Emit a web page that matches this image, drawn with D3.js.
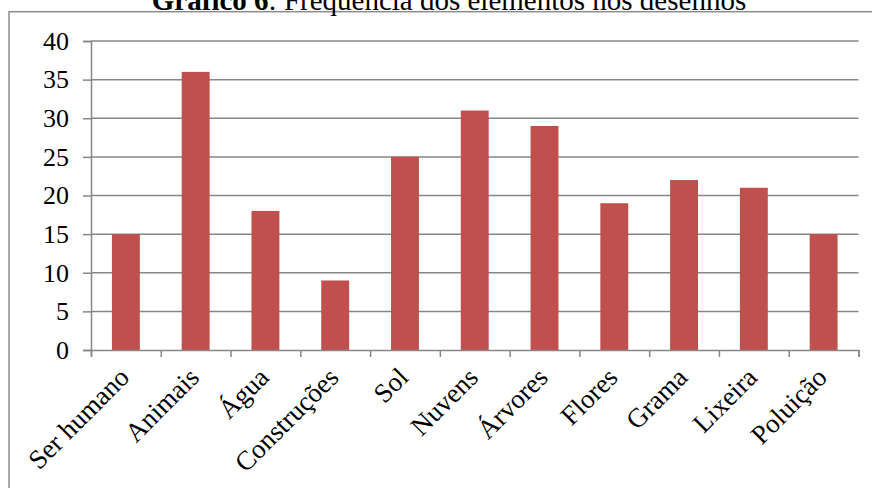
<!DOCTYPE html>
<html>
<head>
<meta charset="utf-8">
<script src="https://cdn.jsdelivr.net/npm/d3@7"></script>
<style>
  html, body { margin: 0; padding: 0; background: #fff; }
  svg { display: block; }
</style>
</head>
<body>
<svg id="chart" width="872" height="488"></svg>
<script>
const categories = ["Ser humano", "Animais", "Água", "Construções", "Sol", "Nuvens", "Árvores", "Flores", "Grama", "Lixeira", "Poluição"];
const values = [15, 36, 18, 9, 25, 31, 29, 19, 22, 21, 15];
const yTicks = [0, 5, 10, 15, 20, 25, 30, 35, 40];
const titleBold = "Gráfico 6";
const titleRest = ": Frequência dos elementos nos desenhos";

const svg = d3.select("#chart");
const W = 872, H = 488;
const margin = { left: 91, right: W - 858.5, top: 41, bottom: H - 350 };
const font = "'Liberation Serif', 'Times New Roman', serif";
const gridColor = "#878787";

// outer frame
svg.append("rect")
  .attr("x", 9).attr("y", 11.7)
  .attr("width", 880).attr("height", 500)
  .attr("fill", "none").attr("stroke", "#8c8c8c").attr("stroke-width", 1.5);

// title
const title = svg.append("text")
  .attr("x", 449).attr("y", 10)
  .attr("text-anchor", "middle")
  .attr("font-family", font).attr("font-size", 29)
  .attr("fill", "#000");
title.append("tspan").attr("font-weight", "bold").text(titleBold);
title.append("tspan").text(titleRest);

const x = d3.scaleBand()
  .domain(categories)
  .range([margin.left, W - margin.right])
  .paddingInner(0.6).paddingOuter(0.3);

const y = d3.scaleLinear()
  .domain([0, 40])
  .range([H - margin.bottom, margin.top]);

// gridlines
svg.append("g")
  .selectAll("line")
  .data(yTicks.filter(d => d > 0))
  .join("line")
  .attr("x1", margin.left).attr("x2", W - margin.right)
  .attr("y1", d => y(d)).attr("y2", d => y(d))
  .attr("stroke", gridColor).attr("stroke-width", 1.5);

// bars
svg.append("g")
  .selectAll("rect")
  .data(values)
  .join("rect")
  .attr("x", (d, i) => x(categories[i]))
  .attr("width", x.bandwidth())
  .attr("y", d => y(d))
  .attr("height", d => y(0) - y(d))
  .attr("fill", "#C0504D");

// y axis
const yAxis = svg.append("g")
  .attr("transform", `translate(${margin.left},0)`)
  .call(d3.axisLeft(y).tickValues(yTicks).tickSize(8).tickPadding(14));
yAxis.select(".domain").attr("stroke", gridColor).attr("stroke-width", 1.5);
yAxis.selectAll(".tick line").attr("stroke", gridColor).attr("stroke-width", 1.5);
yAxis.selectAll(".tick text")
  .attr("font-family", font).attr("font-size", 26).attr("fill", "#000");

// x axis (tick marks at band boundaries)
const xEdge = d3.scaleLinear().domain([0, categories.length]).range([margin.left, W - margin.right]);
const xAxis = svg.append("g")
  .attr("transform", `translate(0,${y(0)})`)
  .call(d3.axisBottom(xEdge).tickValues(d3.range(0, categories.length + 1)).tickSize(7).tickFormat(""));
xAxis.select(".domain").attr("stroke", gridColor).attr("stroke-width", 1.5);
xAxis.selectAll(".tick line").attr("stroke", gridColor).attr("stroke-width", 1.5);

// category labels
svg.append("g")
  .selectAll("text")
  .data(categories)
  .join("text")
  .attr("transform", d => `translate(${x(d) + x.bandwidth() / 2 + 5},${y(0) + 29}) rotate(-45)`)
  .attr("text-anchor", "end")
  .attr("font-family", font).attr("font-size", 27).attr("fill", "#000")
  .text(d => d);
</script>
</body>
</html>
